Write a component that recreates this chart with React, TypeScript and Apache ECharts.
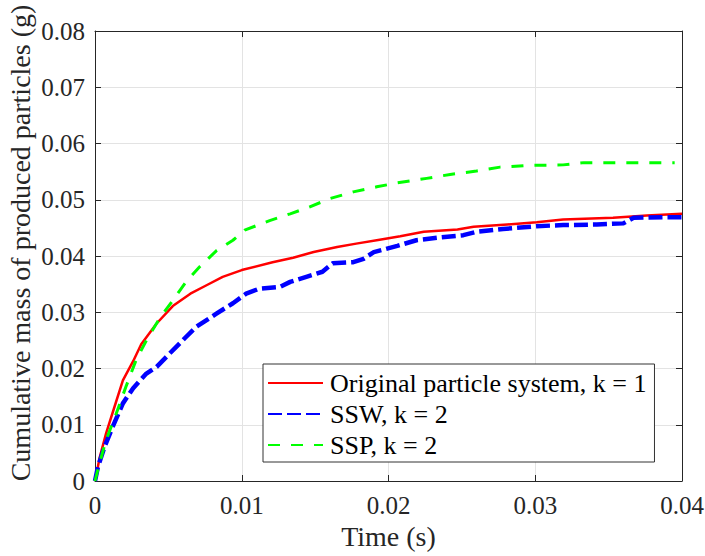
import React, { useEffect, useRef } from "react";
import * as echarts from "echarts";

const xTicks = [0, 0.01, 0.02, 0.03, 0.04];
const yTicks = [0, 0.01, 0.02, 0.03, 0.04, 0.05, 0.06, 0.07, 0.08];

const seriesNames = ["Original particle system, k = 1", "SSW, k = 2", "SSP, k = 2"];

const redT = [0, 0.00012, 0.0003, 0.00076, 0.00133, 0.0019, 0.0026, 0.00315, 0.0042, 0.0053, 0.0065, 0.0076, 0.0087, 0.01, 0.0121, 0.0135, 0.0149, 0.0165, 0.0178, 0.0194, 0.0208, 0.0224, 0.0247, 0.0258, 0.0281, 0.0301, 0.0319, 0.0353, 0.0376, 0.04];
const redV = [0, 0.0014, 0.004, 0.0085, 0.0132, 0.0179, 0.0213, 0.0243, 0.028, 0.0311, 0.0333, 0.0348, 0.0363, 0.0375, 0.0389, 0.0397, 0.0407, 0.0416, 0.0422, 0.0429, 0.0435, 0.0443, 0.0447, 0.0452, 0.0456, 0.046, 0.0465, 0.0468, 0.0472, 0.0475];

const blueT = [0, 0.0002, 0.00065, 0.0012, 0.0019, 0.0026, 0.0035, 0.0042, 0.0051, 0.0062, 0.0069, 0.0083, 0.0094, 0.0103, 0.0112, 0.0126, 0.0133, 0.0144, 0.0155, 0.0162, 0.0176, 0.0183, 0.019, 0.0206, 0.0219, 0.0235, 0.0251, 0.026, 0.0278, 0.0301, 0.0319, 0.0342, 0.036, 0.0367, 0.0387, 0.04];
const blueV = [0, 0.0025, 0.0061, 0.0096, 0.0138, 0.0165, 0.0191, 0.0203, 0.0227, 0.0256, 0.0274, 0.0298, 0.0316, 0.0333, 0.0342, 0.0345, 0.0354, 0.0363, 0.0372, 0.0387, 0.0389, 0.0395, 0.0407, 0.0418, 0.0428, 0.0433, 0.0437, 0.0443, 0.0448, 0.0453, 0.0455, 0.0456, 0.0458, 0.0468, 0.0469, 0.0469];

const greenT = [0, 0.0003, 0.00076, 0.00145, 0.0021, 0.0028, 0.0035, 0.0044, 0.0053, 0.0062, 0.0071, 0.0083, 0.0094, 0.0102, 0.0119, 0.0133, 0.0146, 0.016, 0.0176, 0.0192, 0.0206, 0.0226, 0.0242, 0.026, 0.0276, 0.0294, 0.0319, 0.0333, 0.0353, 0.0395];
const greenV = [0, 0.0031, 0.0073, 0.012, 0.0167, 0.0215, 0.025, 0.0289, 0.0321, 0.0354, 0.038, 0.041, 0.0428, 0.0446, 0.0463, 0.0475, 0.0487, 0.0502, 0.0514, 0.0523, 0.053, 0.0538, 0.0545, 0.0551, 0.0558, 0.0561, 0.0562, 0.0566, 0.0566, 0.0566];

const FONT = "Liberation Serif, serif";
const AX = "#262626";

const zip = (t: number[], v: number[]) => t.map((x, i) => [x, v[i]]);
const fmt = (v: number) => String(Math.round(v * 100) / 100);

export default function App() {
  const ref = useRef<HTMLDivElement>(null);
  useEffect(() => {
    if (!ref.current) return;
    const chart = echarts.init(ref.current, undefined, { renderer: "svg" });
    const baseX = {
      type: "value" as const,
      min: xTicks[0],
      max: xTicks[xTicks.length - 1],
      interval: 0.01,
    };
    const baseY = {
      type: "value" as const,
      min: yTicks[0],
      max: yTicks[yTicks.length - 1],
      interval: 0.01,
    };
    const line = { show: true, onZero: false, lineStyle: { color: AX, width: 1 } };
    const tick = { show: true, inside: true, length: 6, lineStyle: { color: AX } };
    const label = {
      fontFamily: FONT,
      fontSize: 25,
      fontWeight: "normal" as const,
      color: AX,
      formatter: fmt,
    };
    chart.setOption({
      animation: false,
      backgroundColor: "#ffffff",
      textStyle: { fontFamily: FONT },
      grid: {
        left: 95,
        top: 31,
        width: 587,
        height: 450,
        containLabel: false,
        outerBoundsMode: "none",
      },
      xAxis: [
        {
          ...baseX,
          position: "bottom",
          name: "Time (s)",
          nameLocation: "middle",
          nameGap: 40,
          nameTextStyle: { fontFamily: FONT, fontSize: 28, color: AX },
          axisLine: line,
          axisTick: tick,
          axisLabel: { ...label, margin: 12 },
          splitLine: { show: true, lineStyle: { color: "#e3e3e3", width: 1 } },
        },
        {
          ...baseX,
          position: "top",
          axisLine: line,
          axisTick: tick,
          axisLabel: { show: false },
          splitLine: { show: false },
        },
      ],
      yAxis: [
        {
          ...baseY,
          position: "left",
          axisLine: line,
          axisTick: tick,
          axisLabel: { ...label, margin: 10 },
          splitLine: { show: true, lineStyle: { color: "#e3e3e3", width: 1 } },
        },
        {
          ...baseY,
          position: "right",
          axisLine: line,
          axisTick: tick,
          axisLabel: { show: false },
          splitLine: { show: false },
        },
      ],
      legend: {
        show: true,
        orient: "vertical",
        left: 263,
        top: 364,
        backgroundColor: "#ffffff",
        borderColor: "#333333",
        borderWidth: 1,
        borderRadius: 0,
        padding: [6, 8, 4, 4],
        itemGap: 5,
        itemWidth: 55,
        itemHeight: 14,
        itemStyle: { opacity: 0 },
        textStyle: { fontFamily: FONT, fontSize: 26, color: "#000000", padding: [0, 0, 0, 2] },
        data: seriesNames,
      },
      graphic: [
        {
          type: "text",
          x: 20,
          y: 243,
          rotation: Math.PI / 2,
          style: {
            text: "Cumulative mass of produced particles (g)",
            fontFamily: FONT,
            fontSize: 28,
            fill: AX,
            align: "center",
            verticalAlign: "middle",
          },
        },
      ],
      series: [
        {
          name: seriesNames[0],
          type: "line",
          data: zip(redT, redV),
          showSymbol: false,
          symbol: "none",
          lineStyle: { color: "#ff0000", width: 2.5, join: "round" },
          itemStyle: { color: "#ff0000" },
        },
        {
          name: seriesNames[1],
          type: "line",
          data: zip(blueT, blueV),
          showSymbol: false,
          symbol: "none",
          lineStyle: { color: "#0000ff", width: 4.5, type: [14, 5], cap: "butt", join: "round" },
          itemStyle: { color: "#0000ff" },
        },
        {
          name: seriesNames[2],
          type: "line",
          data: zip(greenT, greenV),
          showSymbol: false,
          symbol: "none",
          lineStyle: { color: "#00ff00", width: 3, type: [12, 11], cap: "butt", join: "round" },
          itemStyle: { color: "#00ff00" },
        },
      ],
    });
    return () => chart.dispose();
  }, []);
  return (
    <div
      ref={ref}
      style={{ position: "fixed", left: 0, top: 0, width: 705, height: 556 }}
    />
  );
}
